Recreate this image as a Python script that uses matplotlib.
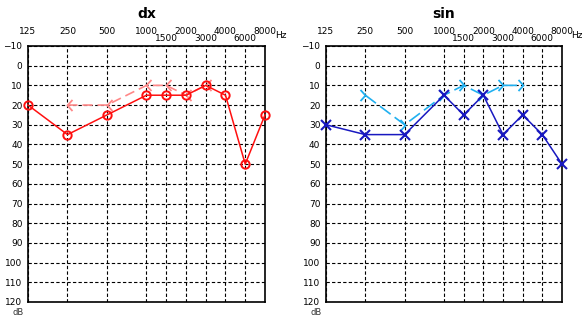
import numpy as np
import matplotlib
matplotlib.use("Agg")
import matplotlib.pyplot as plt
from matplotlib.path import Path

# frequencies (Hz) of the audiogram grid
freqs = [125, 250, 500, 1000, 1500, 2000, 3000, 4000, 6000, 8000]
octave_freqs = [125, 250, 500, 1000, 2000, 4000, 8000]
mid_freqs = [1500, 3000, 6000]
db_ticks = list(range(-10, 121, 10))

# dx (right ear)
dx_air_f = [125, 250, 500, 1000, 1500, 2000, 3000, 4000, 6000, 8000]
dx_air_db = [20, 35, 25, 15, 15, 15, 10, 15, 50, 25]
dx_bone_f = [250, 500, 1000, 1500, 2000, 3000]
dx_bone_db = [20, 20, 10, 10, 15, 10]

# sin (left ear)
sin_air_f = [125, 250, 500, 1000, 1500, 2000, 3000, 4000, 6000, 8000]
sin_air_db = [30, 35, 35, 15, 25, 15, 35, 25, 35, 50]
sin_bone_f = [250, 500, 1000, 1500, 2000, 3000, 4000]
sin_bone_db = [15, 30, 15, 10, 15, 10, 10]


def fpos(f):
    # audiogram scale: octaves, with half-octave slots for 1500/3000/6000
    return np.round(2 * np.log2(np.asarray(f, dtype=float) / 125)) / 2


left_chev = Path([(0.9, 1.0), (0, 0), (0.9, -1.0)],
                 [Path.MOVETO, Path.LINETO, Path.LINETO])
right_chev = Path([(-0.9, 1.0), (0, 0), (-0.9, -1.0)],
                  [Path.MOVETO, Path.LINETO, Path.LINETO])


def setup_axes(ax, title):
    ax.set_xlim(0, 6)
    ax.set_ylim(120, -10)
    ax.xaxis.tick_top()
    ax.set_xticks(fpos(octave_freqs))
    ax.set_xticklabels([str(f) for f in octave_freqs])
    ax.set_xticks(fpos(mid_freqs), minor=True)
    ax.set_xticklabels([str(f) for f in mid_freqs], minor=True)
    ax.tick_params(axis='x', which='major', length=0, pad=7.5, labelsize=6.5)
    ax.tick_params(axis='x', which='minor', length=0, pad=2.0, labelsize=6.5)
    ax.set_yticks(db_ticks)
    ax.tick_params(axis='y', length=0, pad=4, labelsize=6.5)
    ax.grid(which='both', color='black', linestyle=(0, (3, 2)), linewidth=0.8)
    for s in ax.spines.values():
        s.set_linewidth(1.2)
    ax.set_title(title, fontsize=10, fontweight='bold', pad=20)
    ax.text(1.065, 1.04, 'Hz', transform=ax.transAxes, fontsize=6.5,
            ha='center', va='center', clip_on=False)
    ax.text(-0.04, -0.04, 'dB', transform=ax.transAxes, fontsize=6,
            ha='center', va='center', color='#333333')


fig = plt.figure(figsize=(5.82, 3.2), dpi=100)
ax1 = fig.add_axes([0.0481, 0.0563, 0.4072, 0.8])
ax2 = fig.add_axes([0.5601, 0.0563, 0.4055, 0.8])

setup_axes(ax1, 'dx')
ax1.plot(fpos(dx_bone_f), dx_bone_db, color='#ff8888', linestyle=(0, (6, 3)),
         linewidth=1.2, marker=left_chev, markersize=8, markerfacecolor='none',
         markeredgewidth=1.3, clip_on=False, zorder=3)
ax1.plot(fpos(dx_air_f), dx_air_db, color='#ff1010', linewidth=1.1,
         marker='o', markersize=6, markerfacecolor='none',
         markeredgewidth=1.4, clip_on=False, zorder=4)

setup_axes(ax2, 'sin')
ax2.plot(fpos(sin_bone_f), sin_bone_db, color='#20b0f0', linestyle=(0, (8, 3)),
         linewidth=1.2, marker=right_chev, markersize=8, markerfacecolor='none',
         markeredgewidth=1.3, clip_on=False, zorder=3)
ax2.plot(fpos(sin_air_f), sin_air_db, color='#1818c0', linewidth=1.1,
         marker='x', markersize=6.5, markeredgewidth=1.5, clip_on=False, zorder=4)

fig.savefig('out.png', dpi=100)
